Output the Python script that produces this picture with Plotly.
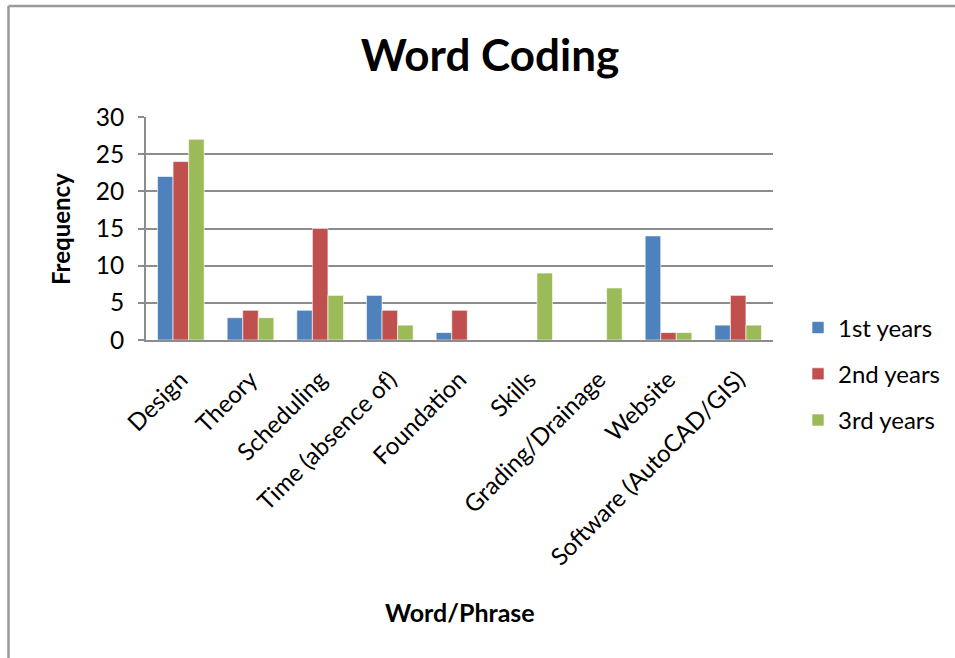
import plotly.graph_objects as go

categories = ["Design", "Theory", "Scheduling", "Time (absence of)", "Foundation",
              "Skills", "Grading/Drainage", "Website", "Software (AutoCAD/GIS)"]
first_years = [22, 3, 4, 6, 1, 0, 0, 14, 2]
second_years = [24, 4, 15, 4, 4, 0, 0, 1, 6]
third_years = [27, 3, 6, 2, 0, 9, 7, 1, 2]
series_names = ["1st years", "2nd years", "3rd years"]
colors = ["#4F81BD", "#C0504D", "#9BBB59"]
y_ticks = [0, 5, 10, 15, 20, 25, 30]

FONT = "Lato, 'Open Sans', sans-serif"

fig = go.Figure()
for name, vals, col in zip(series_names, [first_years, second_years, third_years], colors):
    fig.add_trace(go.Bar(x=categories, y=vals, name=name, marker_color=col,
                         marker_line=dict(color="rgba(255,255,255,0.6)", width=1),
                         legendgroup=name))

L, R, T, B = 146, 773, 117, 340
W, H = 955, 658
pw, ph = R - L, B - T

def px(x):
    return (x - L) / pw

def py(y):
    return (B - y) / ph

fig.update_layout(
    width=W, height=H,
    margin=dict(l=L, r=W - R, t=T, b=H - B, autoexpand=False),
    paper_bgcolor="white", plot_bgcolor="white",
    font=dict(family=FONT, color="black"),
    barmode="group", bargap=0.33, bargroupgap=0,
    title=dict(text="<b>Word Coding</b>", x=490 / W, xanchor="center",
               y=1 - 56 / H, yanchor="middle", yref="container",
               font=dict(size=44, family=FONT, color="black")),
    legend=dict(x=px(798), y=py(374), xanchor="left", yanchor="middle",
                font=dict(size=24, family=FONT), tracegroupgap=12,
                bgcolor="rgba(0,0,0,0)"),
    showlegend=True,
)
fig.update_xaxes(tickangle=-45, tickfont=dict(size=24, family=FONT),
                 showline=True, linecolor="#8C8C8C", linewidth=2,
                 showgrid=False, ticks="", ticklabelstandoff=14)
fig.update_yaxes(range=[0, 30], tickvals=y_ticks, tickfont=dict(size=24.5, family=FONT),
                 showgrid=True, gridcolor="#8C8C8C", gridwidth=2,
                 showline=True, linecolor="#8C8C8C", linewidth=2,
                 ticks="outside", ticklen=6, tickcolor="#8C8C8C", tickwidth=2,
                 ticklabelstandoff=9, zeroline=False)

fig.add_annotation(text="<b>Frequency</b>", x=px(60), y=py(229), xref="paper", yref="paper",
                   textangle=-90, showarrow=False, font=dict(size=24, family=FONT),
                   xanchor="center", yanchor="middle")
fig.add_annotation(text="<b>Word/Phrase</b>", x=px(460), y=py(612), xref="paper", yref="paper",
                   showarrow=False, font=dict(size=25, family=FONT),
                   xanchor="center", yanchor="middle")

# outer chart frame (top and left edges)
fig.add_shape(type="line", xref="paper", yref="paper", x0=px(8.5), x1=px(960),
              y0=py(6), y1=py(6), line=dict(color="#9A9A9A", width=2.5))
fig.add_shape(type="line", xref="paper", yref="paper", x0=px(8.5), x1=px(8.5),
              y0=py(6), y1=py(665), line=dict(color="#9A9A9A", width=2.5))

fig.write_html("out.html")
